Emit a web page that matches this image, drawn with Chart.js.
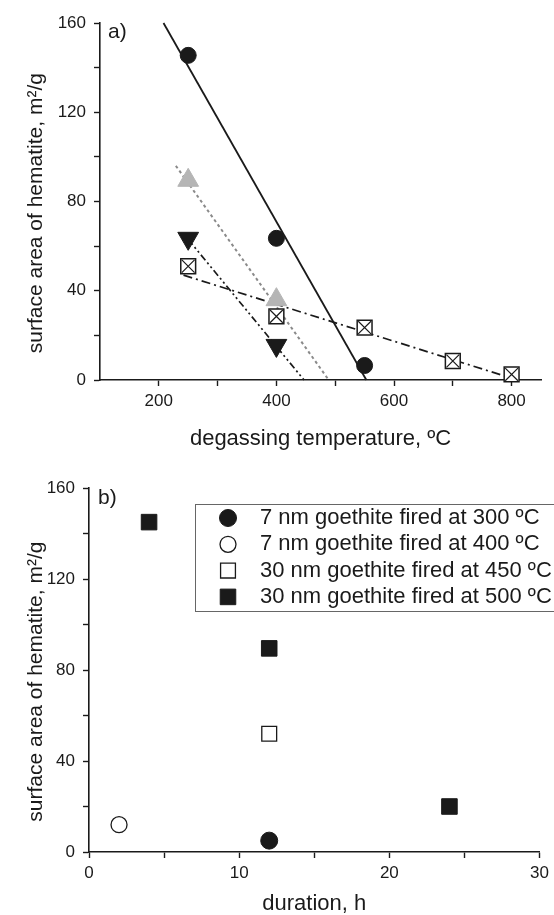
<!DOCTYPE html>
<html>
<head>
<meta charset="utf-8">
<title>Surface area of hematite</title>
<script src="https://cdn.jsdelivr.net/npm/chart.js@4.4.1/dist/chart.umd.min.js"></script>
<style>
    html, body { margin: 0; padding: 0; background: #fff; }
    canvas { display: block; }
</style>
</head>
<body>
<canvas id="chartA" width="554" height="455"></canvas>
<canvas id="chartB" width="554" height="460"></canvas>
<script>
// Panel a: surface area vs degassing temperature
const tempCircle = [250, 400, 550];
const areaCircle = [145.5, 63.5, 6.5];
const tempGrayTri = [250, 400];
const areaGrayTri = [89.5, 36];
const tempDownTri = [250, 400];
const areaDownTri = [63.5, 15.5];
const tempCrossSq = [250, 400, 550, 700, 800];
const areaCrossSq = [51, 28.5, 23.5, 8.5, 2.5];

// Fitted straight lines, end points
const fitCircleTemp = [208, 553];
const fitCircleArea = [160, 0];
const fitGrayTemp = [229, 489];
const fitGrayArea = [96, 0];
const fitDownTemp = [250, 447];
const fitDownArea = [63, 0];
const fitCrossTemp = [242, 810];
const fitCrossArea = [47, 0];

// Panel b: surface area vs duration
const seriesLabelsB = [
    '7 nm goethite fired at 300 ºC',
    '7 nm goethite fired at 400 ºC',
    '30 nm goethite fired at 450 ºC',
    '30 nm goethite fired at 500 ºC'
];
const dur300 = [12];
const area300 = [5];
const dur400 = [2];
const area400 = [12];
const dur450 = [12];
const area450 = [52];
const dur500 = [4, 12, 24];
const area500 = [145, 89.5, 20];

// Axis ticks (all tick marks, and the ones that carry a label)
const areaTicks = [0, 20, 40, 60, 80, 100, 120, 140, 160];
const areaTickLabels = [0, 40, 80, 120, 160];
const tempTicks = [200, 300, 400, 500, 600, 700, 800];
const tempTickLabels = [200, 400, 600, 800];
const durTicks = [0, 5, 10, 15, 20, 25, 30];
const durTickLabels = [0, 10, 20, 30];

const FONT = "'Liberation Sans', Arial, Helvetica, sans-serif";
const INK = '#1a1a1a';

Chart.defaults.font.family = FONT;
Chart.defaults.color = INK;

const toPoints = (xs, ys) => xs.map((x, i) => ({ x: x, y: ys[i] }));

// Build one axis in the plain "Origin" look: outward ticks, no grid
function makeAxis(min, max, ticks, labels, title, size, titleCfg) {
    const vertical = size.width !== undefined;
    return {
        type: 'linear',
        min: min,
        max: max,
        afterBuildTicks: scale => { scale.ticks = ticks.map(v => ({ value: v })); },
        afterFit: scale => {
            if (vertical) scale.width = size.width;
            else scale.height = size.height;
        },
        border: { color: INK, width: 1.6 },
        grid: { drawOnChartArea: false, color: INK, tickLength: 6, tickWidth: 1.4 },
        ticks: {
            autoSkip: false,
            maxRotation: 0,
            padding: vertical ? 8 : 5,
            font: { size: 17 },
            color: INK,
            callback: v => labels.includes(v) ? String(v) : ''
        },
        title: Object.assign({ display: true, text: title, color: INK }, titleCfg)
    };
}

// "a)" / "b)" in the upper-left corner of the plot
const panelLabel = {
    id: 'panelLabel',
    afterDraw(chart, args, opts) {
        const { ctx, chartArea } = chart;
        ctx.save();
        ctx.font = '21px ' + FONT;
        ctx.fillStyle = INK;
        ctx.textBaseline = 'middle';
        ctx.fillText(opts.text, chartArea.left + opts.dx, chartArea.top + opts.dy);
        ctx.restore();
    }
};

// Framed legend sitting inside the plot, drawn from the datasets
const boxLegend = {
    id: 'boxLegend',
    afterDatasetsDraw(chart, args, opts) {
        if (!opts.display) return;
        const ctx = chart.ctx;
        ctx.save();
        ctx.fillStyle = '#fff';
        ctx.fillRect(opts.left, opts.top, opts.width, opts.height);
        ctx.strokeStyle = '#666';
        ctx.lineWidth = 1;
        ctx.strokeRect(opts.left + 0.5, opts.top + 0.5, opts.width, opts.height);
        ctx.font = opts.fontSize + 'px ' + FONT;
        ctx.textBaseline = 'middle';
        chart.data.datasets.forEach((ds, i) => {
            const y = opts.top + opts.firstRow + i * opts.rowGap;
            ctx.fillStyle = ds.backgroundColor;
            ctx.strokeStyle = ds.borderColor;
            ctx.lineWidth = ds.borderWidth;
            Chart.helpers.drawPoint(ctx, {
                pointStyle: ds.pointStyle,
                rotation: 0,
                radius: ds.pointRadius,
                borderWidth: ds.borderWidth
            }, opts.markerX, y);
            ctx.fillStyle = INK;
            ctx.fillText(ds.label, opts.textX, y);
        });
        ctx.restore();
    }
};

function markerSet(label, xs, ys, style, radius, fill, border, borderWidth, extra) {
    return Object.assign({
        label: label,
        data: toPoints(xs, ys),
        pointStyle: style,
        pointRadius: radius,
        pointHoverRadius: radius,
        backgroundColor: fill,
        borderColor: border,
        borderWidth: borderWidth,
        showLine: false,
        clip: false,
        order: 0
    }, extra || {});
}

function fitLine(xs, ys, color, width, dash) {
    return {
        data: toPoints(xs, ys),
        showLine: true,
        pointRadius: 0,
        borderColor: color,
        borderWidth: width,
        borderDash: dash,
        fill: false,
        clip: false,
        order: 2
    };
}

const yTitleText = 'surface area of hematite, m²/g    ';

// Panel a
new Chart(document.getElementById('chartA').getContext('2d'), {
    type: 'scatter',
    data: {
        datasets: [
            markerSet('circles', tempCircle, areaCircle, 'circle', 8, INK, INK, 1),
            markerSet('grey triangles', tempGrayTri, areaGrayTri, 'triangle', 12, '#b5b5b5', '#b5b5b5', 1),
            markerSet('down triangles', tempDownTri, areaDownTri, 'triangle', 12, INK, INK, 1, { rotation: 180 }),
            markerSet('crossed squares', tempCrossSq, areaCrossSq, 'rect', 10.5, '#fff', INK, 1.5),
            markerSet('crossed squares x', tempCrossSq, areaCrossSq, 'crossRot', 9, INK, INK, 1.2, { order: -1 }),
            fitLine(fitCircleTemp, fitCircleArea, INK, 1.8, []),
            fitLine(fitGrayTemp, fitGrayArea, '#8a8a8a', 2, [3, 3]),
            fitLine(fitDownTemp, fitDownArea, INK, 1.7, [7, 3, 2, 3, 2, 3]),
            fitLine(fitCrossTemp, fitCrossArea, INK, 1.7, [9, 4, 2, 4])
        ]
    },
    options: {
        responsive: false,
        animation: false,
        events: [],
        layout: { padding: { top: 23, right: 10, left: 0, bottom: 0 } },
        scales: {
            x: makeAxis(100, 850, tempTicks, tempTickLabels, 'degassing temperature, ºC',
                { height: 75 }, { font: { size: 22, lineHeight: 1 }, padding: { top: 0, bottom: 5 } }),
            y: makeAxis(0, 160, areaTicks, areaTickLabels, yTitleText,
                { width: 100 }, { font: { size: 21, lineHeight: 1 }, padding: { top: 26, bottom: 0 } })
        },
        plugins: {
            legend: { display: false },
            tooltip: { enabled: false },
            panelLabel: { text: 'a)', dx: 8, dy: 9 },
            boxLegend: { display: false }
        }
    },
    plugins: [panelLabel, boxLegend]
});

// Panel b
new Chart(document.getElementById('chartB').getContext('2d'), {
    type: 'scatter',
    data: {
        datasets: [
            markerSet(seriesLabelsB[0], dur300, area300, 'circle', 8.5, INK, INK, 1),
            markerSet(seriesLabelsB[1], dur400, area400, 'circle', 8, '#fff', INK, 1.3),
            markerSet(seriesLabelsB[2], dur450, area450, 'rect', 10.5, '#fff', INK, 1.3),
            markerSet(seriesLabelsB[3], dur500, area500, 'rect', 11, INK, INK, 1)
        ]
    },
    options: {
        responsive: false,
        animation: false,
        events: [],
        layout: { padding: { top: 33, right: 12, left: 0, bottom: 0 } },
        scales: {
            x: makeAxis(0, 30, durTicks, durTickLabels, 'duration, h',
                { height: 63 }, { font: { size: 22, lineHeight: 1 }, padding: { top: 0, bottom: 0 } }),
            y: makeAxis(0, 160, areaTicks, areaTickLabels, yTitleText,
                { width: 89 }, { font: { size: 21, lineHeight: 1 }, padding: { top: 26, bottom: 0 } })
        },
        plugins: {
            legend: { display: false },
            tooltip: { enabled: false },
            panelLabel: { text: 'b)', dx: 9, dy: 10 },
            boxLegend: {
                display: true,
                left: 195, top: 49, width: 420, height: 107,
                markerX: 228, textX: 260, firstRow: 14, rowGap: 26.3, fontSize: 22
            }
        }
    },
    plugins: [panelLabel, boxLegend]
});
</script>
</body>
</html>
